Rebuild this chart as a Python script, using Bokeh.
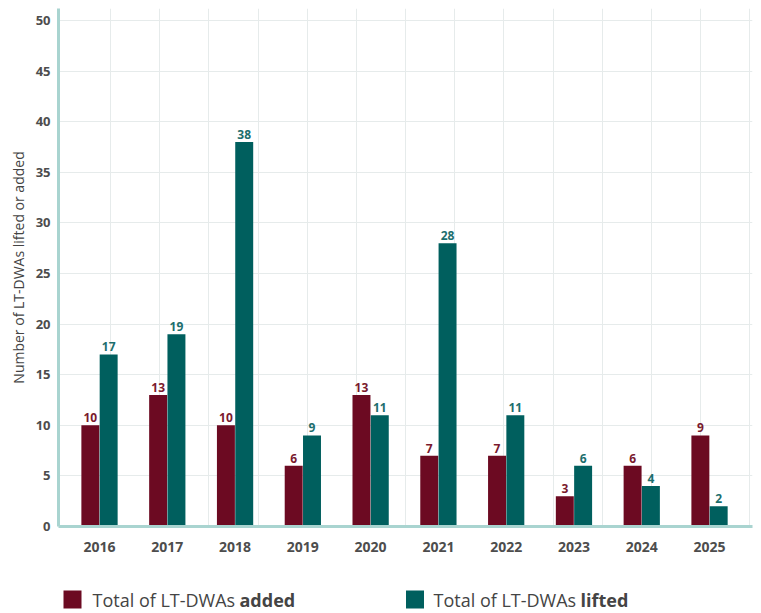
import numpy as np
from bokeh.plotting import figure
from bokeh.models import Range1d, FixedTicker, ColumnDataSource
from bokeh.layouts import column
from bokeh.embed import file_html
from bokeh.resources import INLINE
from bokeh.core.properties import value

# ---- data ----
years = ["2016", "2017", "2018", "2019", "2020", "2021", "2022", "2023", "2024", "2025"]
added = [10, 13, 10, 6, 13, 7, 7, 3, 6, 9]
lifted = [17, 19, 38, 9, 11, 28, 11, 6, 4, 2]
y_ticks = [0, 5, 10, 15, 20, 25, 30, 35, 40, 45, 50]
y_title = "Number of LT-DWAs lifted or added"
legend_text = ["Total of LT-DWAs ", "Total of LT-DWAs "]
legend_bold = ["added", "lifted"]

ADDED = "#6c0a22"
LIFTED = "#005f5e"
ADDED_TXT = "#7a1a2e"
LIFTED_TXT = "#1c6e6d"
AXIS = "#a9d4d0"
GRID = "#e6ebeb"
FONT = "Open Sans"

idx = np.arange(len(years))
src = ColumnDataSource(dict(
    xa=idx - 0.135, xl=idx + 0.135,
    added=added, lifted=lifted,
    added_s=[str(v) for v in added], lifted_s=[str(v) for v in lifted],
))

p = figure(width=753, height=570, x_range=Range1d(-0.605, 9.634),
           y_range=Range1d(0, 51.19), output_backend="svg", toolbar_location=None,
           min_border_left=58, min_border_right=1, min_border_top=8, min_border_bottom=44)
p.outline_line_color = None
p.background_fill_color = "white"

p.vbar(x="xa", top="added", width=0.265, bottom=0, source=src, fill_color=ADDED, line_color=None)
p.vbar(x="xl", top="lifted", width=0.265, bottom=0, source=src, fill_color=LIFTED, line_color=None)

p.text(x="xa", y="added", text="added_s", source=src, text_align="center", text_baseline="bottom",
       y_offset=-3, text_font=value(FONT), text_font_style="bold", text_font_size="12px",
       text_color=ADDED_TXT)
p.text(x="xl", y="lifted", text="lifted_s", source=src, text_align="center", text_baseline="bottom",
       y_offset=-3, text_font=value(FONT), text_font_style="bold", text_font_size="12px",
       text_color=LIFTED_TXT)

# axes
p.xaxis.ticker = FixedTicker(ticks=list(idx))
p.xaxis.major_label_overrides = {int(i): y for i, y in zip(idx, years)}
p.yaxis.ticker = FixedTicker(ticks=y_ticks)
p.yaxis.axis_label = y_title
for ax in (p.xaxis, p.yaxis):
    ax.axis_line_color = AXIS
    ax.axis_line_width = 3
    ax.major_tick_line_color = None
    ax.minor_tick_line_color = None
    ax.major_label_text_font = FONT
    ax.major_label_text_font_style = "bold"
    ax.major_label_text_color = "#4d4d4d"
p.xaxis.major_label_text_font_size = "14px"
p.xaxis.major_label_standoff = 9
p.yaxis.major_label_text_font_size = "13px"
p.yaxis.major_label_standoff = 2
p.yaxis.axis_label_text_font = FONT
p.yaxis.axis_label_text_font_style = "normal"
p.yaxis.axis_label_text_font_size = "14px"
p.yaxis.axis_label_text_color = "#444444"
p.yaxis.axis_label_standoff = 5

# grids
p.ygrid.ticker = FixedTicker(ticks=y_ticks[1:])
p.ygrid.grid_line_color = GRID
p.xgrid.ticker = FixedTicker(ticks=list(0.162 + 0.7257 * np.arange(14)))
p.xgrid.grid_line_color = GRID

# legend strip (its frame is aligned with the main frame: page x 58..752)
lg = figure(width=753, height=40, x_range=Range1d(58, 752), y_range=Range1d(40, 0),
            output_backend="svg", toolbar_location=None, min_border=0,
            x_axis_location=None, y_axis_location=None)
lg.grid.visible = False
lg.outline_line_color = None
lg.rect(x=[72, 414.5], y=[29, 29], width=18, height=18, fill_color=[ADDED, LIFTED], line_color=None)
lg.text(x=[92, 433], y=[29, 29], text=legend_text, text_baseline="middle",
        text_font=value(FONT), text_font_size="18px", text_color="#444444")
lg.text(x=[239, 580], y=[29, 29], text=legend_bold, text_baseline="middle",
        text_font=value(FONT), text_font_style="bold", text_font_size="18px", text_color="#444444")

layout = column(p, lg, spacing=0)
open("out.html", "w").write(file_html(layout, INLINE))
